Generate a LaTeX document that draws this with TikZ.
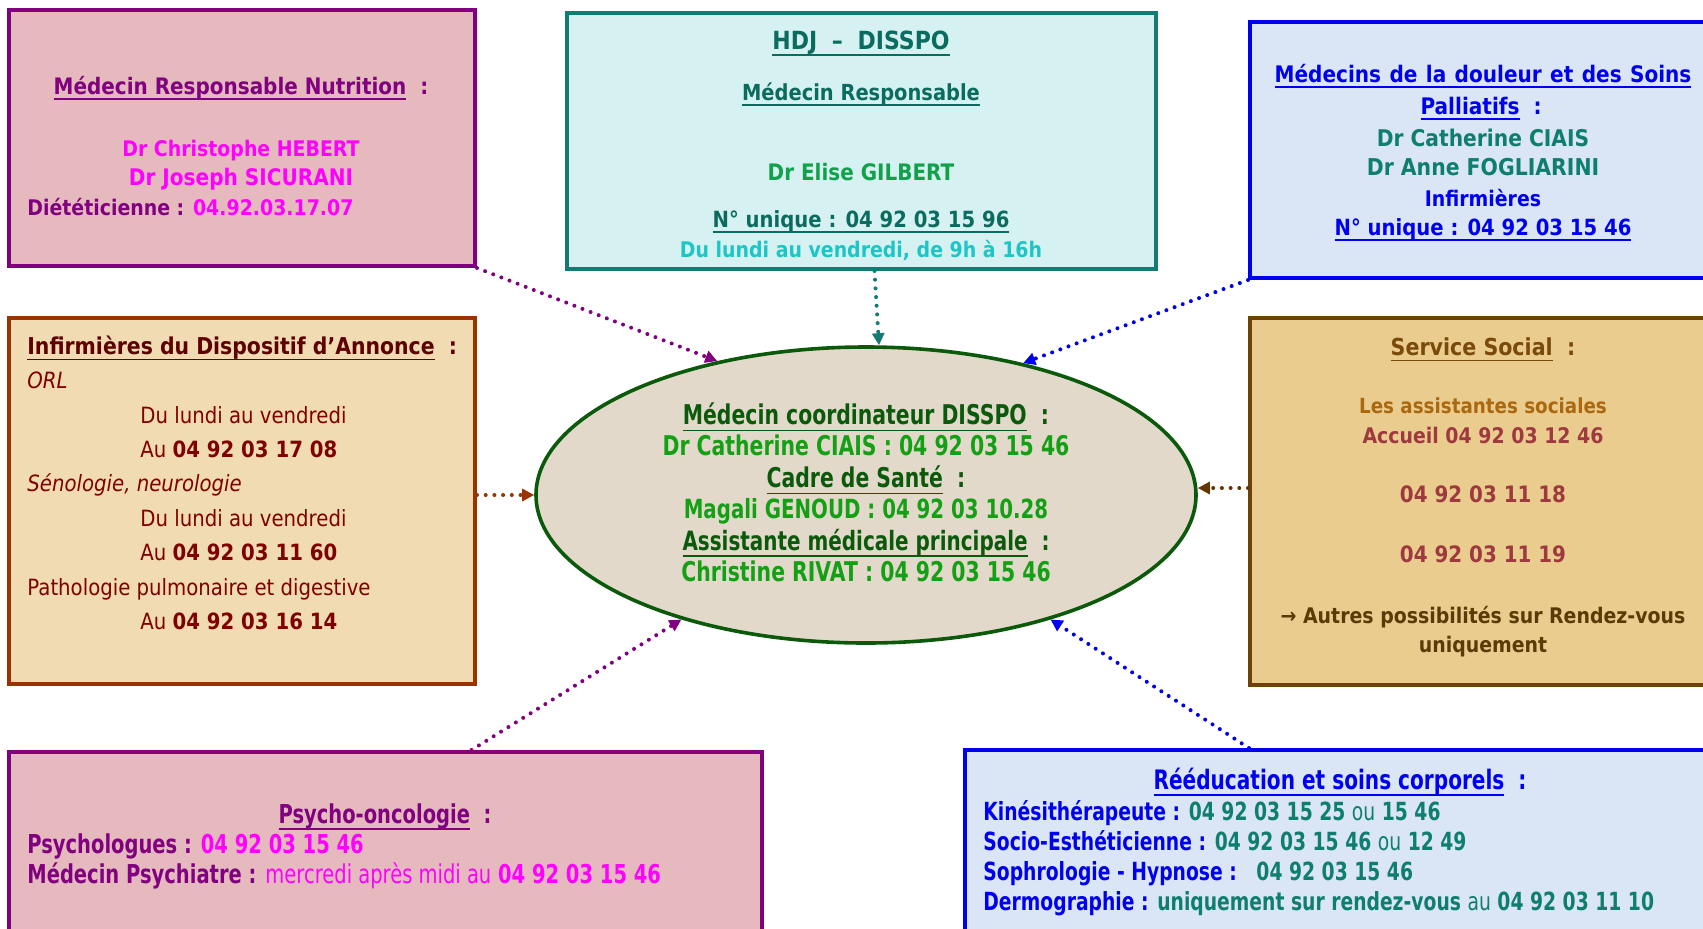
\documentclass[tikz,border=0pt]{standalone}
\usepackage{fontspec}
\setmainfont[FakeStretch=0.88]{DejaVu Sans}
\newfontfamily\condfont[FakeStretch=0.75]{DejaVu Sans}
\usetikzlibrary{shapes.geometric,arrows.meta,fit,calc}
\newcommand{\setsz}[1]{\fontsize{#1}{#1}\selectfont}
\newcommand{\undl}[1]{\leavevmode\setbox0=\hbox{#1}\rlap{\rule[-0.24em]{\wd0}{0.9pt}}\box0}
\definecolor{purpB}{HTML}{800080}
\definecolor{magT}{HTML}{FF00FF}
\definecolor{pinkF}{HTML}{E5B9BD}
\definecolor{hdjF}{HTML}{D6F1F1}
\definecolor{hdjB}{HTML}{137B72}
\definecolor{hdjT}{HTML}{0A6B5F}
\definecolor{eliseT}{HTML}{12A14B}
\definecolor{turqT}{HTML}{1CC6C6}
\definecolor{blueB}{HTML}{0000F0}
\definecolor{blueF}{HTML}{DAE6F5}
\definecolor{tealT}{HTML}{0E7E70}
\definecolor{infF}{HTML}{F0DBB2}
\definecolor{infB}{HTML}{993300}
\definecolor{infT}{HTML}{800000}
\definecolor{infTT}{HTML}{5E0000}
\definecolor{socF}{HTML}{EACC8E}
\definecolor{socB}{HTML}{6E4205}
\definecolor{socT}{HTML}{7A4A0A}
\definecolor{socO}{HTML}{AB680E}
\definecolor{socR}{HTML}{9E3A3F}
\definecolor{socD}{HTML}{5A3A05}
\definecolor{ellF}{HTML}{E3D9CA}
\definecolor{ellB}{HTML}{0B5A0B}
\definecolor{ellT}{HTML}{0B5A0B}
\definecolor{ellG}{HTML}{14A014}
\definecolor{arrS}{HTML}{663300}
\begin{document}
\begin{tikzpicture}[x=0.5pt,y=-0.5pt,
  box/.style={draw,line width=2pt,inner sep=0pt},
  arr/.style={line width=2pt,dash pattern=on 0pt off 4.35pt,line cap=round,
    -{Triangle[length=6pt,width=6pt]}},
  tx/.style={inner sep=0pt,yshift=-1.65pt,font=\setsz{10.75pt}\bfseries},
  txs/.style={tx,font=\setsz{#1}\bfseries},
  ti/.style={inner sep=0pt,yshift=-1.65pt,font=\setsz{11.2pt}},
  tc/.style={inner sep=0pt,yshift=-2.2pt,font=\condfont\setsz{13.6pt}\bfseries},
  tp/.style={inner sep=0pt,yshift=-1.65pt,font=\condfont\setsz{13pt}\bfseries},
  tr/.style={inner sep=0pt,yshift=-1.65pt,font=\condfont\setsz{12.5pt}\bfseries}]
\clip (0,0) rectangle (1703,928);
\fill[white] (0,0) rectangle (1703,928);
% boxes
\node[box,draw=purpB,fill=pinkF,fit={(9,10) (475,266)}] (nut) {};
\node[box,draw=hdjB,fill=hdjF,fit={(567,13) (1156,269)}] (hdj) {};
\node[box,draw=blueB,fill=blueF,fit={(1250,22) (1720,278)}] (dou) {};
\node[box,draw=infB,fill=infF,fit={(9,318) (475,684)}] (inf) {};
\node[box,draw=socB,fill=socF,fit={(1250,318) (1720,685)}] (soc) {};
\node[box,draw=purpB,fill=pinkF,fit={(9,752) (762,945)}] (psy) {};
\node[box,draw=blueB,fill=blueF,fit={(965,750) (1720,945)}] (reed) {};
\node[ellipse,draw=ellB,line width=1.8pt,fill=ellF,minimum width=330pt,minimum height=148pt,inner sep=0pt] (ell) at (866,495) {};
% nutrition
\node[txs=11.35pt,purpB,anchor=mid] (n1) at (241,86) {\undl{Médecin Responsable Nutrition}\ \ :};
\node[tx,magT,anchor=mid] (n2) at (241,148) {Dr Christophe HEBERT};
\node[txs=11.4pt,magT,anchor=mid] (n3) at (241,177) {Dr Joseph SICURANI};
\node[tx,anchor=mid west] (n4) at (27,207) {\textcolor{purpB}{Diététicienne :} \textcolor{magT}{04.92.03.17.07}};
% HDJ
\node[txs=12.5pt,hdjT,anchor=mid] (h1) at (861,41) {\undl{HDJ\hspace{3.5pt} – \hspace{3.5pt}DISSPO}};
\node[txs=11.05pt,hdjT,anchor=mid] (h2) at (861,92) {\undl{Médecin Responsable}};
\node[txs=11.35pt,eliseT,anchor=mid] (h3) at (861,172) {Dr Elise GILBERT};
\node[txs=11.15pt,hdjT,anchor=mid] (h4) at (861,219) {\undl{N° unique : 04 92 03 15 96}};
\node[tx,turqT,anchor=mid] (h5) at (861,249) {Du lundi au vendredi, de 9h à 16h};
% douleur
\node[txs=11.4pt,blueB,anchor=mid] (d1) at (1483,74) {\spaceskip=4.2pt\undl{Médecins de la douleur et des Soins}};
\node[txs=11.4pt,blueB,anchor=mid] (d2) at (1481,106) {\undl{Palliatifs}\ \ :};
\node[txs=11.5pt,tealT,anchor=mid] (d3) at (1483,138) {Dr Catherine CIAIS};
\node[txs=11.6pt,tealT,anchor=mid] (d4) at (1483,167) {Dr Anne FOGLIARINI};
\node[tx,blueB,anchor=mid] (d5) at (1483,198) {Infirmières};
\node[txs=11.15pt,blueB,anchor=mid] (d6) at (1483,227) {\undl{N° unique : 04 92 03 15 46}};
% infirmieres
\node[ti,infTT,anchor=mid west,font=\setsz{11.6pt}] (i1) at (27,346) {\bfseries\undl{Infirmières du Dispositif d’Annonce}\ \ :};
\node[ti,infT,anchor=mid west] (i2) at (27,380) {\itshape ORL};
\node[ti,infT,anchor=mid west] (i3) at (140,415) {Du lundi au vendredi};
\node[ti,infT,anchor=mid west] (i4) at (140,449) {Au {\bfseries 04 92 03 17 08}};
\node[ti,infT,anchor=mid west] (i5) at (27,483) {\itshape Sénologie, neurologie};
\node[ti,infT,anchor=mid west] (i6) at (140,518) {Du lundi au vendredi};
\node[ti,infT,anchor=mid west] (i7) at (140,552) {Au {\bfseries 04 92 03 11 60}};
\node[ti,infT,anchor=mid west] (i8) at (27,587) {Pathologie pulmonaire et digestive};
\node[ti,infT,anchor=mid west] (i9) at (140,621) {Au {\bfseries 04 92 03 16 14}};
% ellipse text
\node[tc,ellT,anchor=mid] (e1) at (866,415) {\undl{Médecin coordinateur DISSPO}\ \ :};
\node[tc,ellG,anchor=mid] (e2) at (866,446) {Dr Catherine CIAIS : 04 92 03 15 46};
\node[tc,ellT,anchor=mid] (e3) at (866,478) {\undl{Cadre de Santé}\ \ :};
\node[tc,ellG,anchor=mid,font=\condfont\setsz{13.2pt}\bfseries] (e4) at (866,509) {Magali GENOUD : 04 92 03 10.28};
\node[tc,ellT,anchor=mid,font=\condfont\setsz{13.3pt}\bfseries] (e5) at (866,541) {\undl{Assistante médicale principale}\ \ :};
\node[tc,ellG,anchor=mid] (e6) at (866,572) {Christine RIVAT : 04 92 03 15 46};
% service social
\node[txs=11.7pt,socT,anchor=mid] (s1) at (1483,347) {\undl{Service Social}\ \ :};
\node[txs=10.4pt,socO,anchor=mid] (s2) at (1483,405) {Les assistantes sociales};
\node[tx,socR,anchor=mid] (s3) at (1483,435) {Accueil 04 92 03 12 46};
\node[txs=11.3pt,socR,anchor=mid] (s4) at (1483,494) {04 92 03 11 18};
\node[txs=11.3pt,socR,anchor=mid] (s5) at (1483,554) {04 92 03 11 19};
\node[tx,socD,anchor=mid] (s6) at (1483,615) {→ Autres possibilités sur Rendez-vous};
\node[tx,socD,anchor=mid] (s7) at (1483,644) {uniquement};
% psycho
\node[tp,purpB,anchor=mid] (p1) at (385,815) {\undl{Psycho-oncologie}\ \ :};
\node[tp,anchor=mid west] (p2) at (27,845) {\textcolor{purpB}{Psychologues :} \textcolor{magT}{04 92 03 15 46}};
\node[tp,anchor=mid west] (p3) at (27,875) {\textcolor{purpB}{Médecin Psychiatre :} \textcolor{magT}{\mdseries mercredi après midi au} \textcolor{magT}{04 92 03 15 46}};
% reeducation
\node[tr,blueB,anchor=mid,font=\condfont\setsz{13.4pt}\bfseries] (r1) at (1340,781) {\undl{Rééducation et soins corporels}\ \ :};
\node[tr,anchor=mid west] (r2) at (983,812) {\textcolor{blueB}{Kinésithérapeute :} \textcolor{tealT}{04 92 03 15 25 {\mdseries ou} 15 46}};
\node[tr,anchor=mid west] (r3) at (983,842) {\textcolor{blueB}{Socio-Esthéticienne :} \textcolor{tealT}{04 92 03 15 46 {\mdseries ou} 12 49}};
\node[tr,anchor=mid west] (r4) at (983,872) {\textcolor{blueB}{Sophrologie - Hypnose :}\ \ \ \textcolor{tealT}{04 92 03 15 46}};
\node[tr,anchor=mid west] (r5) at (983,902) {\textcolor{blueB}{Dermographie :} \textcolor{tealT}{uniquement sur rendez-vous {\mdseries au} 04 92 03 11 10}};
% connectors
\coordinate (se) at ([yshift=3.5pt]ell.east);
\draw[arr,purpB] (nut.south east) -- (ell.138);
\draw[arr,hdjB] ([xshift=6.5pt]hdj.south) -- ([xshift=6.5pt]ell.north);
\draw[arr,blueB] (dou.south west) -- (ell.40);
\draw[arr,infB] (inf.east |- ell.west) -- (ell.west);
\draw[arr,arrS] (se -| soc.west) -- (se);
\draw[arr,purpB] ([xshift=43pt]psy.north) -- (ell.214);
\draw[arr,blueB] ([xshift=143pt]reed.north west) -- (ell.326);
\end{tikzpicture}
\end{document}
